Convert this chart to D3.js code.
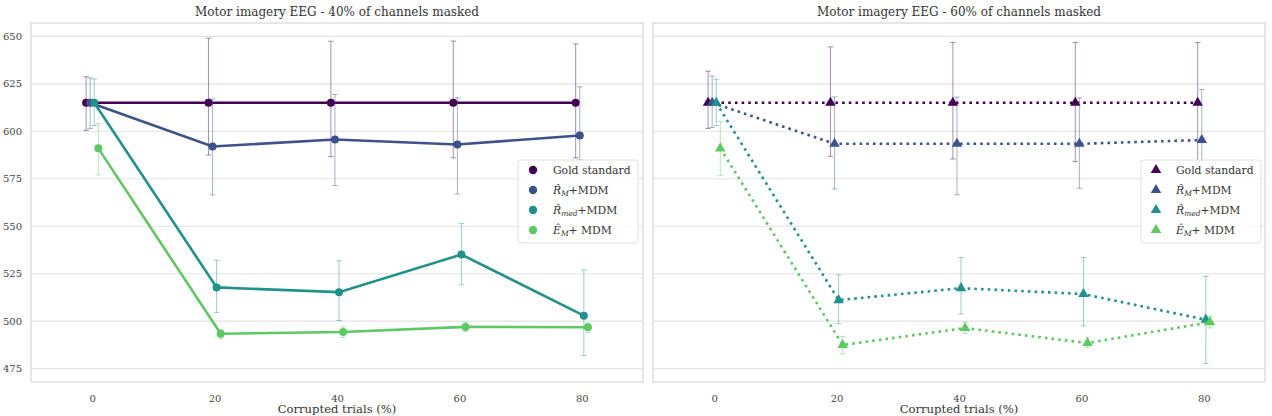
<!DOCTYPE html>
<html>
<head>
<meta charset="utf-8">
<script src="https://cdn.jsdelivr.net/npm/d3@7"></script>
<style>
    html, body { margin: 0; padding: 0; background: #fff; }
    svg, svg text { font-family: "DejaVu Serif", serif; }
    svg { display: block; }
</style>
</head>
<body>
<svg id="chart"></svg>
<script>
// ── data ───────────────────────────────────────────────────────────────
const xVals  = [0, 20, 40, 60, 80];
const yTicks = [475, 500, 525, 550, 575, 600, 625, 650];

const panelTitles = [
    "Motor imagery EEG - 40% of channels masked",
    "Motor imagery EEG - 60% of channels masked",
];

// legend labels: base glyph, italic subscript, tail
const seriesLabels = [
    { base: "Gold standard" },
    { base: "R\u0302", sub: "M",   rest: "+MDM" },
    { base: "R\u0302", sub: "med", rest: "+MDM" },
    { base: "E\u0302", sub: "M",   rest: "+ MDM" },
];

// 40% of channels masked — means and CI bounds
const gold40   = [615, 615, 615, 615, 615];
const gold40Lo = [600.5, 587.5, 586.6, 586, 586];
const gold40Hi = [628.7, 649, 647.4, 647.5, 646];

const rm40   = [615, 592, 595.7, 593, 597.8];
const rm40Lo = [601.5, 566.5, 571.4, 567, 585];
const rm40Hi = [628, 617, 619.4, 617.6, 623.4];

const rmed40   = [615, 517.8, 515.3, 535.1, 502.9];
const rmed40Lo = [603, 504.6, 500.4, 519.2, 481.9];
const rmed40Hi = [627.5, 532.1, 531.8, 551.4, 527];

const em40   = [591, 493.4, 494.3, 497, 496.8];
const em40Lo = [577, 491, 491.5, 494.5, 494];
const em40Hi = [604, 495.5, 497, 499.5, 499];

// 60% of channels masked
const gold60   = [615, 615, 615, 615, 615];
const gold60Lo = [601.5, 586.8, 585.4, 584, 584];
const gold60Hi = [631.6, 644.4, 646.8, 646.7, 646.7];

const rm60   = [615, 593.4, 593.4, 593.4, 595.4];
const rm60Lo = [602, 569.6, 566.6, 570, 584.5];
const rm60Hi = [629, 618.1, 618, 617.6, 622];

const rmed60   = [615, 511.1, 517.4, 514.3, 500.8];
const rmed60Lo = [603, 498.7, 503.8, 497.6, 477.7];
const rmed60Hi = [627.4, 524.4, 533.5, 533.5, 523.6];

const em60   = [591, 487.5, 496.4, 488.5, 499.5];
const em60Lo = [576.6, 482.8, 493.5, 486, 496.5];
const em60Hi = [605, 492, 499.5, 491.5, 502.5];

// ── style ──────────────────────────────────────────────────────────────
const colors = ["#440154", "#3b528b", "#21918c", "#5ec962"];
const dodge  = [-1, -1 / 3, 1 / 3, 1];   // hue dodge, in x units
const serif  = "DejaVu Serif, serif";

const W = 1272, H = 416;
const plotTop = 23, plotBottom = 382;

const svg = d3.select("#chart").attr("width", W).attr("height", H);

const y = d3.scaleLinear().domain([468, 657]).range([plotBottom, plotTop]);

function drawPanel({ left, right, title, means, lows, highs, marker, dotted, yLabels, legendX }) {
    const x = d3.scaleLinear().domain([-10, 90]).range([left, right]);
    const g = svg.append("g").attr("font-family", serif);

    // ── grid + frame ──
    g.selectAll(".grid").data(yTicks).enter()
        .append("line")
        .attr("x1", left).attr("x2", right)
        .attr("y1", d => y(d)).attr("y2", d => y(d))
        .attr("stroke", "#e3e3e3").attr("stroke-width", 1.2);

    g.append("rect")
        .attr("x", left).attr("y", plotTop)
        .attr("width", right - left).attr("height", plotBottom - plotTop)
        .attr("fill", "none").attr("stroke", "#d9d9d9").attr("stroke-width", 1.3);

    // ── axes text ──
    const xAxis = d3.axisBottom(x).tickValues(xVals).tickSize(0).tickPadding(13);
    const xg = g.append("g").attr("transform", `translate(0,${plotBottom})`).call(xAxis)
        .attr("font-family", serif);
    xg.select(".domain").remove();
    xg.selectAll("text").attr("fill", "#444").attr("font-size", 10);

    if (yLabels) {
        const yAxis = d3.axisLeft(y).tickValues(yTicks).tickSize(0).tickPadding(9);
        const yg = g.append("g").attr("transform", `translate(${left},0)`).call(yAxis)
            .attr("font-family", serif);
        yg.select(".domain").remove();
        yg.selectAll("text").attr("fill", "#444").attr("font-size", 10);
    }

    g.append("text")
        .attr("x", (left + right) / 2).attr("y", 16)
        .attr("text-anchor", "middle")
        .attr("fill", "#333").attr("font-size", 12)
        .text(title);

    g.append("text")
        .attr("x", (left + right) / 2).attr("y", 413)
        .attr("text-anchor", "middle")
        .attr("fill", "#333").attr("font-size", 11.6)
        .text("Corrupted trials (%)");

    const tri = d3.symbol().type(d3.symbolTriangle).size(48);

    // ── series ──
    means.forEach((vals, i) => {
        const pts = xVals.map((xv, j) => ({ x: xv + dodge[i], v: vals[j], lo: lows[i][j], hi: highs[i][j] }));
        const s = g.append("g");

        // error bars
        const eb = s.selectAll(".eb").data(pts).enter().append("g")
            .attr("stroke", colors[i]).attr("stroke-opacity", 0.45).attr("stroke-width", 1);
        eb.append("line")
            .attr("x1", d => x(d.x)).attr("x2", d => x(d.x))
            .attr("y1", d => y(d.lo)).attr("y2", d => y(d.hi));
        eb.append("line")
            .attr("x1", d => x(d.x) - 2.8).attr("x2", d => x(d.x) + 2.8)
            .attr("y1", d => y(d.lo)).attr("y2", d => y(d.lo));
        eb.append("line")
            .attr("x1", d => x(d.x) - 2.8).attr("x2", d => x(d.x) + 2.8)
            .attr("y1", d => y(d.hi)).attr("y2", d => y(d.hi));

        // line
        s.append("path")
            .datum(pts)
            .attr("d", d3.line().x(d => x(d.x)).y(d => y(d.v)))
            .attr("fill", "none")
            .attr("stroke", colors[i])
            .attr("stroke-width", 2.6)
            .attr("stroke-dasharray", dotted ? "2.6,4.1" : null);

        // markers
        if (marker === "circle") {
            s.selectAll(".pt").data(pts).enter().append("circle")
                .attr("cx", d => x(d.x)).attr("cy", d => y(d.v)).attr("r", 4)
                .attr("fill", colors[i]);
        } else {
            s.selectAll(".pt").data(pts).enter().append("path")
                .attr("d", tri)
                .attr("transform", d => `translate(${x(d.x)},${y(d.v)})`)
                .attr("fill", colors[i]);
        }
    });

    // ── legend ──
    const lg = g.append("g").attr("transform", `translate(${legendX},160)`);
    lg.append("rect")
        .attr("width", 120).attr("height", 83).attr("rx", 3)
        .attr("fill", "#fff").attr("fill-opacity", 0.85)
        .attr("stroke", "#e0e0e0").attr("stroke-width", 1);

    seriesLabels.forEach((lab, i) => {
        const ry = 10 + i * 20;
        if (marker === "circle") {
            lg.append("circle").attr("cx", 15).attr("cy", ry).attr("r", 4.2).attr("fill", colors[i]);
        } else {
            lg.append("path").attr("d", tri).attr("transform", `translate(15,${ry})`).attr("fill", colors[i]);
        }
        const t = lg.append("text")
            .attr("x", 35).attr("y", ry + 3.8)
            .attr("fill", "#333").attr("font-size", 10.8);
        if (!lab.sub) {
            t.text(lab.base);
        } else {
            t.append("tspan").attr("font-style", "italic").text(lab.base);
            t.append("tspan").attr("dy", 2).attr("font-style", "italic").attr("font-size", 7.5).text(lab.sub);
            t.append("tspan").attr("dy", -2).text(lab.rest);
        }
    });
}

// ── panels ─────────────────────────────────────────────────────────────
drawPanel({
    left: 31, right: 643,
    title: panelTitles[0],
    means: [gold40, rm40, rmed40, em40],
    lows:  [gold40Lo, rm40Lo, rmed40Lo, em40Lo],
    highs: [gold40Hi, rm40Hi, rmed40Hi, em40Hi],
    marker: "circle", dotted: false, yLabels: true, legendX: 518,
});

drawPanel({
    left: 653, right: 1265,
    title: panelTitles[1],
    means: [gold60, rm60, rmed60, em60],
    lows:  [gold60Lo, rm60Lo, rmed60Lo, em60Lo],
    highs: [gold60Hi, rm60Hi, rmed60Hi, em60Hi],
    marker: "triangle", dotted: true, yLabels: false, legendX: 1141,
});
</script>
</body>
</html>
